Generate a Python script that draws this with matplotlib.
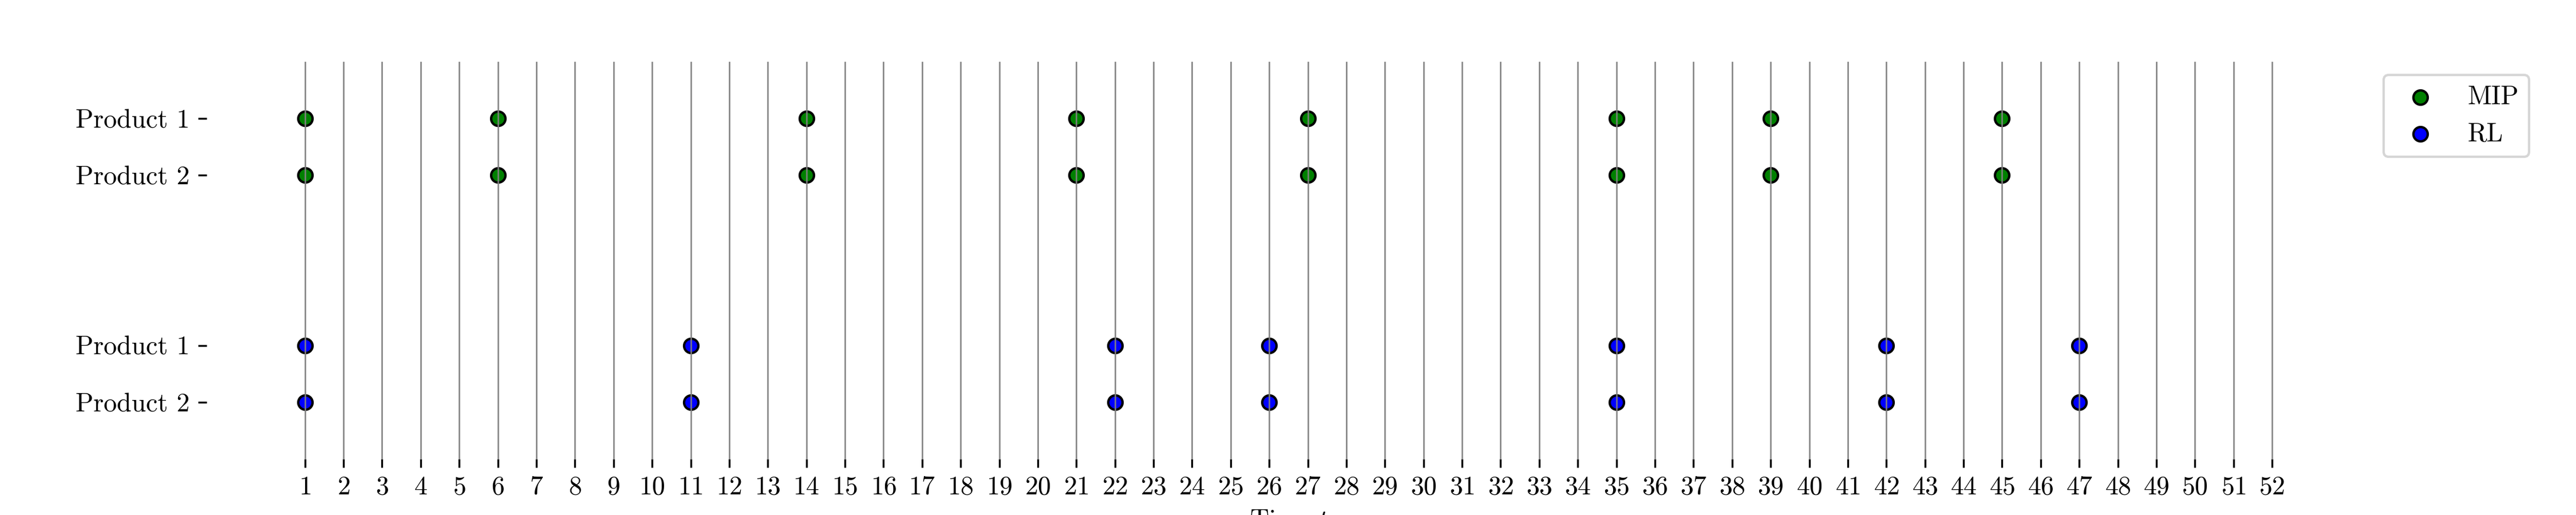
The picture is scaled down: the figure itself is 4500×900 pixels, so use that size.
import matplotlib
matplotlib.use("Agg")
import matplotlib.pyplot as plt

plt.rcParams['font.family'] = ['cmr10', 'DejaVu Serif']
plt.rcParams['mathtext.fontset'] = 'cm'
plt.rcParams['axes.formatter.use_mathtext'] = True
plt.rcParams['font.size'] = 11

# order periods per method (same for both products)
periods = list(range(1, 53))
mip_orders = [1, 6, 14, 21, 27, 35, 39, 45]
rl_orders = [1, 11, 22, 26, 35, 42, 47]

# row positions / labels
mip_rows = [5, 4]
rl_rows = [1, 0]
row_labels = ['Product 1', 'Product 2', 'Product 1', 'Product 2']

fig, ax = plt.subplots(figsize=(15, 3), dpi=300)
fig.subplots_adjust(left=0.0802, right=0.9202, bottom=0.109, top=0.88)

for i, y in enumerate(mip_rows):
    ax.scatter(mip_orders, [y] * len(mip_orders), color='green', edgecolors='black',
               linewidths=1, s=36, label='MIP' if i == 0 else None)
for i, y in enumerate(rl_rows):
    ax.scatter(rl_orders, [y] * len(rl_orders), color='blue', edgecolors='black',
               linewidths=1, s=36, label='RL' if i == 0 else None)

# vertical line at each period
for p in periods:
    ax.axvline(p, color='gray', linewidth=0.6)

ax.set_xticks(periods)
ax.set_yticks(mip_rows + rl_rows)
ax.set_yticklabels(row_labels)
# same as autoscaling 1..52 with 5% margins
pad = 0.05 * (periods[-1] - periods[0])
ax.set_xlim(periods[0] - pad, periods[-1] + pad)
ax.set_ylim(-1, 6)
ax.set_xlabel('Time $t$')

for s in ax.spines.values():
    s.set_visible(False)

ax.legend(loc='upper left', bbox_to_anchor=(1.0, 1.0))

plt.savefig('out.png', dpi=300)
